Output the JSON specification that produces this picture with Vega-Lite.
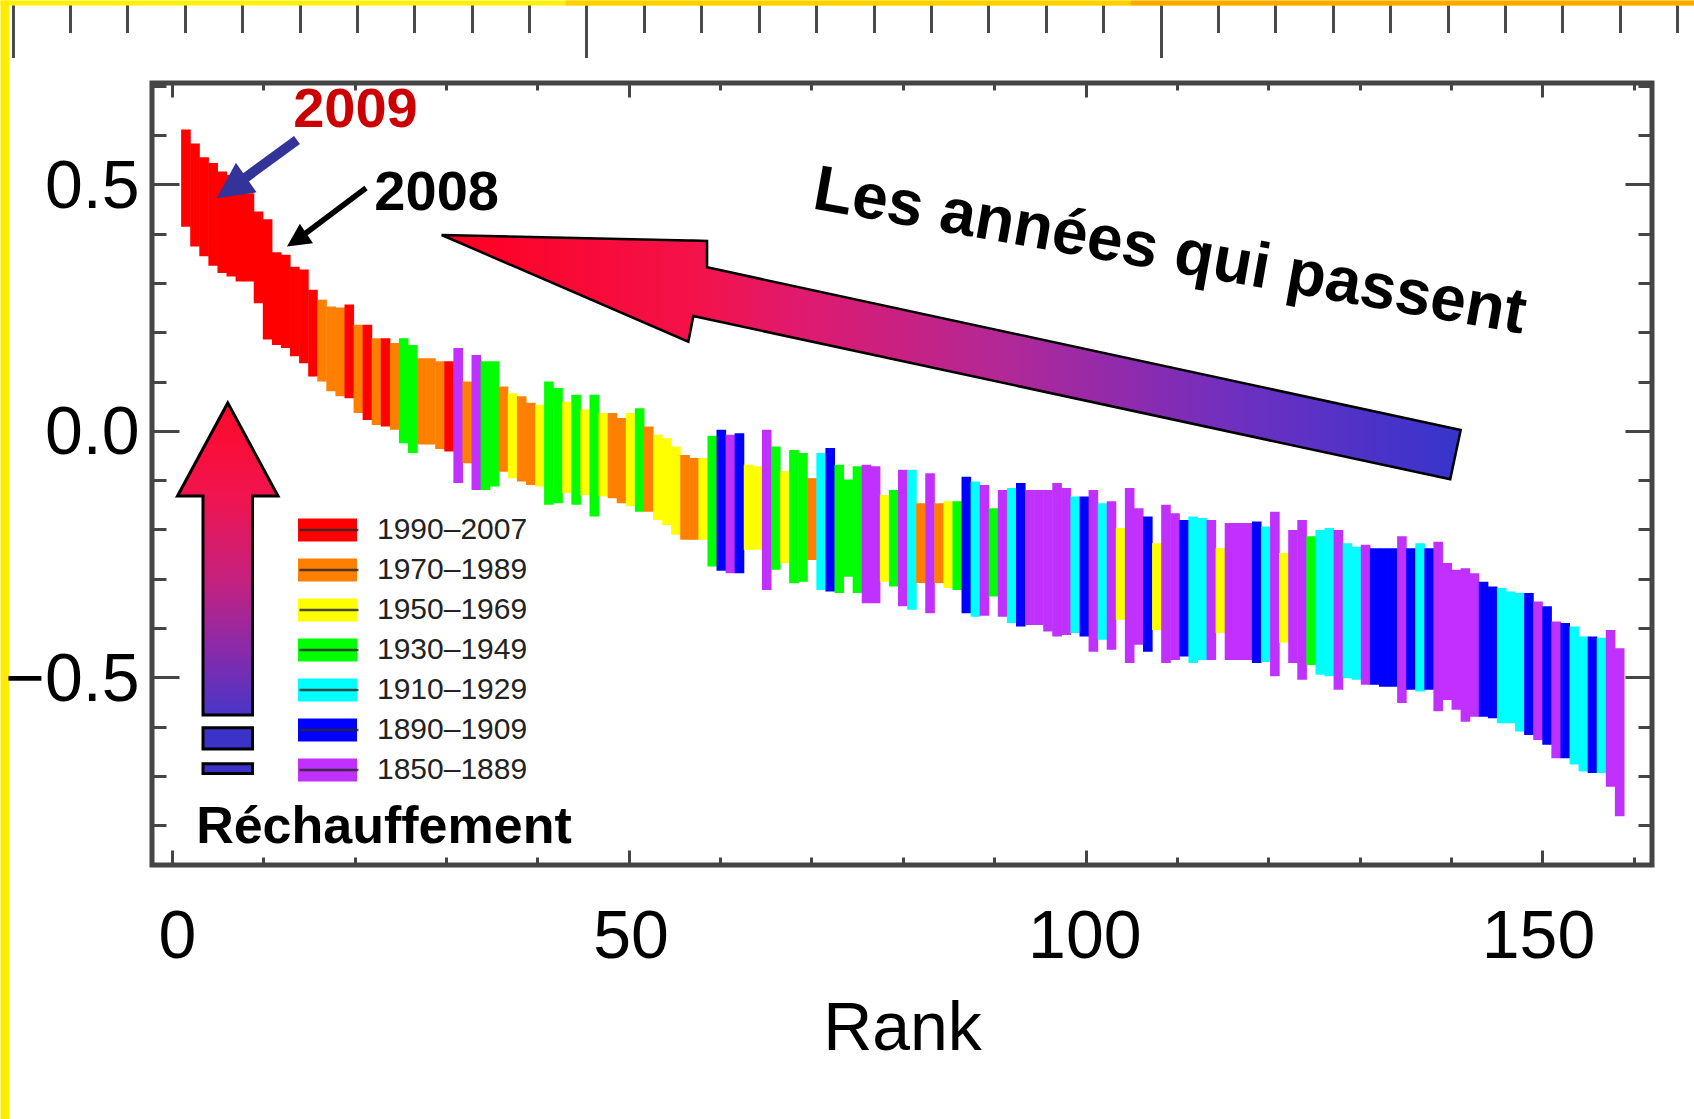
{
  "$schema": "https://vega.github.io/schema/vega-lite/v6.json",
  "width": 1500,
  "height": 782,
  "autosize": {"type": "none"},
  "padding": {"left": 152, "top": 83, "right": 42, "bottom": 254},
  "background": "white",
  "config": {
    "view": {"stroke": "#454545", "strokeWidth": 5},
    "font": "Liberation Sans",
    "axis": {"grid": false}
  },
  "datasets": {
    "bars": [
      {"rank": 1, "period": "1990–2007", "hi": 0.611, "lo": 0.414},
      {"rank": 2, "period": "1990–2007", "hi": 0.583, "lo": 0.374},
      {"rank": 3, "period": "1990–2007", "hi": 0.555, "lo": 0.354},
      {"rank": 4, "period": "1990–2007", "hi": 0.543, "lo": 0.335},
      {"rank": 5, "period": "1990–2007", "hi": 0.526, "lo": 0.32},
      {"rank": 6, "period": "1990–2007", "hi": 0.519, "lo": 0.313},
      {"rank": 7, "period": "1990–2007", "hi": 0.482, "lo": 0.303},
      {"rank": 8, "period": "1990–2007", "hi": 0.482, "lo": 0.303},
      {"rank": 9, "period": "1990–2007", "hi": 0.445, "lo": 0.259},
      {"rank": 10, "period": "1990–2007", "hi": 0.429, "lo": 0.185},
      {"rank": 11, "period": "1990–2007", "hi": 0.362, "lo": 0.174},
      {"rank": 12, "period": "1990–2007", "hi": 0.357, "lo": 0.168},
      {"rank": 13, "period": "1990–2007", "hi": 0.333, "lo": 0.151},
      {"rank": 14, "period": "1990–2007", "hi": 0.327, "lo": 0.137},
      {"rank": 15, "period": "1990–2007", "hi": 0.286, "lo": 0.11},
      {"rank": 16, "period": "1970–1989", "hi": 0.266, "lo": 0.1},
      {"rank": 17, "period": "1970–1989", "hi": 0.252, "lo": 0.08},
      {"rank": 18, "period": "1970–1989", "hi": 0.25, "lo": 0.07},
      {"rank": 19, "period": "1990–2007", "hi": 0.256, "lo": 0.066},
      {"rank": 20, "period": "1970–1989", "hi": 0.215, "lo": 0.036},
      {"rank": 21, "period": "1990–2007", "hi": 0.215, "lo": 0.022},
      {"rank": 22, "period": "1970–1989", "hi": 0.188, "lo": 0.012},
      {"rank": 23, "period": "1990–2007", "hi": 0.188, "lo": 0.009},
      {"rank": 24, "period": "1970–1989", "hi": 0.178, "lo": 0.002},
      {"rank": 25, "period": "1930–1949", "hi": 0.188, "lo": -0.025},
      {"rank": 26, "period": "1930–1949", "hi": 0.174, "lo": -0.045},
      {"rank": 27, "period": "1970–1989", "hi": 0.147, "lo": -0.028},
      {"rank": 28, "period": "1970–1989", "hi": 0.147, "lo": -0.028},
      {"rank": 29, "period": "1970–1989", "hi": 0.141, "lo": -0.037},
      {"rank": 30, "period": "1990–2007", "hi": 0.141, "lo": -0.042},
      {"rank": 31, "period": "1850–1889", "hi": 0.168, "lo": -0.106},
      {"rank": 32, "period": "1970–1989", "hi": 0.1, "lo": -0.066},
      {"rank": 33, "period": "1850–1889", "hi": 0.154, "lo": -0.12},
      {"rank": 34, "period": "1930–1949", "hi": 0.141, "lo": -0.12},
      {"rank": 35, "period": "1930–1949", "hi": 0.141, "lo": -0.113},
      {"rank": 36, "period": "1970–1989", "hi": 0.09, "lo": -0.083},
      {"rank": 37, "period": "1950–1969", "hi": 0.076, "lo": -0.096},
      {"rank": 38, "period": "1970–1989", "hi": 0.07, "lo": -0.103},
      {"rank": 39, "period": "1970–1989", "hi": 0.057, "lo": -0.11},
      {"rank": 40, "period": "1950–1969", "hi": 0.053, "lo": -0.113},
      {"rank": 41, "period": "1930–1949", "hi": 0.1, "lo": -0.15},
      {"rank": 42, "period": "1930–1949", "hi": 0.087, "lo": -0.147},
      {"rank": 43, "period": "1950–1969", "hi": 0.059, "lo": -0.126},
      {"rank": 44, "period": "1930–1949", "hi": 0.073, "lo": -0.15},
      {"rank": 45, "period": "1950–1969", "hi": 0.043, "lo": -0.13},
      {"rank": 46, "period": "1930–1949", "hi": 0.073, "lo": -0.174},
      {"rank": 47, "period": "1950–1969", "hi": 0.036, "lo": -0.133},
      {"rank": 48, "period": "1970–1989", "hi": 0.036, "lo": -0.137},
      {"rank": 49, "period": "1970–1989", "hi": 0.026, "lo": -0.147},
      {"rank": 50, "period": "1950–1969", "hi": 0.036, "lo": -0.153},
      {"rank": 51, "period": "1930–1949", "hi": 0.046, "lo": -0.164},
      {"rank": 52, "period": "1970–1989", "hi": 0.009, "lo": -0.164},
      {"rank": 53, "period": "1950–1969", "hi": -0.008, "lo": -0.181},
      {"rank": 54, "period": "1950–1969", "hi": -0.015, "lo": -0.191},
      {"rank": 55, "period": "1950–1969", "hi": -0.032, "lo": -0.211},
      {"rank": 56, "period": "1970–1989", "hi": -0.049, "lo": -0.221},
      {"rank": 57, "period": "1970–1989", "hi": -0.055, "lo": -0.221},
      {"rank": 58, "period": "1950–1969", "hi": -0.055, "lo": -0.221},
      {"rank": 59, "period": "1930–1949", "hi": -0.01, "lo": -0.275},
      {"rank": 60, "period": "1890–1909", "hi": 0.002, "lo": -0.284},
      {"rank": 61, "period": "1850–1889", "hi": -0.008, "lo": -0.289},
      {"rank": 62, "period": "1890–1909", "hi": -0.005, "lo": -0.289},
      {"rank": 63, "period": "1950–1969", "hi": -0.069, "lo": -0.241},
      {"rank": 64, "period": "1950–1969", "hi": -0.072, "lo": -0.241},
      {"rank": 65, "period": "1850–1889", "hi": 0.002, "lo": -0.323},
      {"rank": 66, "period": "1930–1949", "hi": -0.032, "lo": -0.282},
      {"rank": 67, "period": "1950–1969", "hi": -0.082, "lo": -0.268},
      {"rank": 68, "period": "1930–1949", "hi": -0.039, "lo": -0.309},
      {"rank": 69, "period": "1930–1949", "hi": -0.045, "lo": -0.306},
      {"rank": 70, "period": "1970–1989", "hi": -0.096, "lo": -0.262},
      {"rank": 71, "period": "1910–1929", "hi": -0.045, "lo": -0.323},
      {"rank": 72, "period": "1890–1909", "hi": -0.035, "lo": -0.326},
      {"rank": 73, "period": "1930–1949", "hi": -0.069, "lo": -0.329},
      {"rank": 74, "period": "1930–1949", "hi": -0.099, "lo": -0.296},
      {"rank": 75, "period": "1930–1949", "hi": -0.072, "lo": -0.329},
      {"rank": 76, "period": "1850–1889", "hi": -0.069, "lo": -0.35},
      {"rank": 77, "period": "1850–1889", "hi": -0.072, "lo": -0.35},
      {"rank": 78, "period": "1950–1969", "hi": -0.13, "lo": -0.306},
      {"rank": 79, "period": "1930–1949", "hi": -0.12, "lo": -0.316},
      {"rank": 80, "period": "1850–1889", "hi": -0.079, "lo": -0.356},
      {"rank": 81, "period": "1910–1929", "hi": -0.079, "lo": -0.363},
      {"rank": 82, "period": "1970–1989", "hi": -0.147, "lo": -0.309},
      {"rank": 83, "period": "1850–1889", "hi": -0.086, "lo": -0.37},
      {"rank": 84, "period": "1970–1989", "hi": -0.147, "lo": -0.309},
      {"rank": 85, "period": "1950–1969", "hi": -0.143, "lo": -0.319},
      {"rank": 86, "period": "1930–1949", "hi": -0.143, "lo": -0.323},
      {"rank": 87, "period": "1890–1909", "hi": -0.093, "lo": -0.37},
      {"rank": 88, "period": "1910–1929", "hi": -0.103, "lo": -0.377},
      {"rank": 89, "period": "1850–1889", "hi": -0.11, "lo": -0.375},
      {"rank": 90, "period": "1930–1949", "hi": -0.157, "lo": -0.336},
      {"rank": 91, "period": "1850–1889", "hi": -0.12, "lo": -0.377},
      {"rank": 92, "period": "1910–1929", "hi": -0.116, "lo": -0.39},
      {"rank": 93, "period": "1890–1909", "hi": -0.106, "lo": -0.397},
      {"rank": 94, "period": "1850–1889", "hi": -0.12, "lo": -0.394},
      {"rank": 95, "period": "1850–1889", "hi": -0.12, "lo": -0.394},
      {"rank": 96, "period": "1850–1889", "hi": -0.12, "lo": -0.407},
      {"rank": 97, "period": "1850–1889", "hi": -0.106, "lo": -0.417},
      {"rank": 98, "period": "1850–1889", "hi": -0.116, "lo": -0.414},
      {"rank": 99, "period": "1910–1929", "hi": -0.133, "lo": -0.41},
      {"rank": 100, "period": "1890–1909", "hi": -0.133, "lo": -0.417},
      {"rank": 101, "period": "1850–1889", "hi": -0.12, "lo": -0.448},
      {"rank": 102, "period": "1910–1929", "hi": -0.147, "lo": -0.424},
      {"rank": 103, "period": "1850–1889", "hi": -0.143, "lo": -0.444},
      {"rank": 104, "period": "1950–1969", "hi": -0.197, "lo": -0.383},
      {"rank": 105, "period": "1850–1889", "hi": -0.116, "lo": -0.471},
      {"rank": 106, "period": "1850–1889", "hi": -0.157, "lo": -0.434},
      {"rank": 107, "period": "1890–1909", "hi": -0.174, "lo": -0.448},
      {"rank": 108, "period": "1950–1969", "hi": -0.228, "lo": -0.404},
      {"rank": 109, "period": "1850–1889", "hi": -0.15, "lo": -0.471},
      {"rank": 110, "period": "1850–1889", "hi": -0.167, "lo": -0.465},
      {"rank": 111, "period": "1890–1909", "hi": -0.181, "lo": -0.458},
      {"rank": 112, "period": "1910–1929", "hi": -0.174, "lo": -0.471},
      {"rank": 113, "period": "1910–1929", "hi": -0.177, "lo": -0.465},
      {"rank": 114, "period": "1850–1889", "hi": -0.181, "lo": -0.465},
      {"rank": 115, "period": "1950–1969", "hi": -0.238, "lo": -0.41},
      {"rank": 116, "period": "1850–1889", "hi": -0.187, "lo": -0.465},
      {"rank": 117, "period": "1850–1889", "hi": -0.187, "lo": -0.465},
      {"rank": 118, "period": "1850–1889", "hi": -0.187, "lo": -0.465},
      {"rank": 119, "period": "1890–1909", "hi": -0.184, "lo": -0.471},
      {"rank": 120, "period": "1910–1929", "hi": -0.194, "lo": -0.469},
      {"rank": 121, "period": "1850–1889", "hi": -0.164, "lo": -0.498},
      {"rank": 122, "period": "1950–1969", "hi": -0.248, "lo": -0.43},
      {"rank": 123, "period": "1850–1889", "hi": -0.201, "lo": -0.471},
      {"rank": 124, "period": "1850–1889", "hi": -0.181, "lo": -0.505},
      {"rank": 125, "period": "1930–1949", "hi": -0.214, "lo": -0.475},
      {"rank": 126, "period": "1910–1929", "hi": -0.201, "lo": -0.495},
      {"rank": 127, "period": "1910–1929", "hi": -0.197, "lo": -0.498},
      {"rank": 128, "period": "1850–1889", "hi": -0.201, "lo": -0.525},
      {"rank": 129, "period": "1910–1929", "hi": -0.228, "lo": -0.502},
      {"rank": 130, "period": "1910–1929", "hi": -0.235, "lo": -0.505},
      {"rank": 131, "period": "1850–1889", "hi": -0.231, "lo": -0.515},
      {"rank": 132, "period": "1890–1909", "hi": -0.238, "lo": -0.515},
      {"rank": 133, "period": "1890–1909", "hi": -0.238, "lo": -0.519},
      {"rank": 134, "period": "1890–1909", "hi": -0.238, "lo": -0.519},
      {"rank": 135, "period": "1850–1889", "hi": -0.214, "lo": -0.552},
      {"rank": 136, "period": "1890–1909", "hi": -0.238, "lo": -0.525},
      {"rank": 137, "period": "1910–1929", "hi": -0.228, "lo": -0.529},
      {"rank": 138, "period": "1890–1909", "hi": -0.238, "lo": -0.525},
      {"rank": 139, "period": "1850–1889", "hi": -0.225, "lo": -0.569},
      {"rank": 140, "period": "1850–1889", "hi": -0.268, "lo": -0.546},
      {"rank": 141, "period": "1850–1889", "hi": -0.282, "lo": -0.566},
      {"rank": 142, "period": "1850–1889", "hi": -0.279, "lo": -0.59},
      {"rank": 143, "period": "1850–1889", "hi": -0.289, "lo": -0.58},
      {"rank": 144, "period": "1890–1909", "hi": -0.306, "lo": -0.58},
      {"rank": 145, "period": "1890–1909", "hi": -0.316, "lo": -0.583},
      {"rank": 146, "period": "1910–1929", "hi": -0.319, "lo": -0.593},
      {"rank": 147, "period": "1910–1929", "hi": -0.326, "lo": -0.593},
      {"rank": 148, "period": "1910–1929", "hi": -0.329, "lo": -0.61},
      {"rank": 149, "period": "1890–1909", "hi": -0.329, "lo": -0.617},
      {"rank": 150, "period": "1850–1889", "hi": -0.346, "lo": -0.627},
      {"rank": 151, "period": "1890–1909", "hi": -0.356, "lo": -0.637},
      {"rank": 152, "period": "1850–1889", "hi": -0.387, "lo": -0.664},
      {"rank": 153, "period": "1890–1909", "hi": -0.39, "lo": -0.664},
      {"rank": 154, "period": "1910–1929", "hi": -0.397, "lo": -0.677},
      {"rank": 155, "period": "1910–1929", "hi": -0.417, "lo": -0.691},
      {"rank": 156, "period": "1890–1909", "hi": -0.417, "lo": -0.694},
      {"rank": 157, "period": "1910–1929", "hi": -0.42, "lo": -0.694},
      {"rank": 158, "period": "1850–1889", "hi": -0.404, "lo": -0.722},
      {"rank": 159, "period": "1850–1889", "hi": -0.441, "lo": -0.782}
    ],
    "bigArrow": [
      {"x": 29.52, "top": 0.3972, "bottom": 0.3972},
      {"x": 56.52, "top": 0.386, "bottom": 0.1807},
      {"x": 57.07, "top": 0.3858, "bottom": 0.2329},
      {"x": 58.57, "top": 0.385, "bottom": 0.2268},
      {"x": 58.57, "top": 0.3316, "bottom": 0.2268},
      {"x": 139.92, "top": 0.0061, "bottom": -0.0984},
      {"x": 141.07, "top": 0.0016, "bottom": 0.0016}
    ],
    "upArrow": [
      {"x": 0.602, "top": -0.1323, "bottom": -0.1323},
      {"x": 3.394, "top": -0.0365, "bottom": -0.1323},
      {"x": 3.394, "top": -0.0365, "bottom": -0.5765},
      {"x": 6.103, "top": 0.0564, "bottom": -0.5765},
      {"x": 8.812, "top": -0.0365, "bottom": -0.5765},
      {"x": 8.812, "top": -0.0365, "bottom": -0.1323},
      {"x": 11.604, "top": -0.1323, "bottom": -0.1323}
    ],
    "blocks": [
      {"x": 3.394, "x2": 8.812, "y": -0.6021, "y2": -0.6455},
      {"x": 3.394, "x2": 8.812, "y": -0.6755, "y2": -0.6951}
    ]
  },
  "layer": [
    {
      "data": {"name": "bars"},
      "mark": {"type": "point", "opacity": 0},
      "encoding": {
        "x": {
          "field": "rank", "type": "quantitative",
          "scale": {"domain": [0, 1694], "range": [-152, 1542], "nice": false, "zero": false},
          "axis": {
            "orient": "top", "offset": 80.5, "title": null, "labels": false, "grid": false,
            "domain": true, "domainColor": "#fff200", "domainWidth": 5, "domainCap": "butt",
            "ticks": true, "tickColor": "#4a4a4a", "tickWidth": 3,
            "tickSize": {"condition": {"test": "datum.value < 13 || abs(datum.value - 586.5) < 1 || abs(datum.value - 1160.5) < 1", "value": -55}, "value": -30},
            "values": [12.5, 69.9, 127.3, 184.7, 242.1, 299.5, 356.9, 414.3, 471.7, 529.1, 586.5, 643.9, 701.3, 758.7, 816.1, 873.5, 930.9, 988.3, 1045.7, 1103.1, 1160.5, 1217.9, 1275.3, 1332.7, 1390.1, 1447.5, 1504.9, 1562.3, 1619.7, 1677.1]
          }
        },
        "y": {
          "field": "lo", "type": "quantitative",
          "scale": {"domain": [0, 1119], "range": [1036, -83], "nice": false, "zero": false},
          "axis": {"orient": "left", "offset": 147.5, "title": null, "labels": false, "ticks": false, "grid": false, "domain": true, "domainColor": "#ffec00", "domainWidth": 9}
        }
      }
    },
    {
      "data": {"name": "bars"},
      "mark": {"type": "point", "opacity": 0},
      "encoding": {
        "x": {
          "field": "rank", "type": "quantitative",
          "scale": {"domain": [0, 1], "range": [413, 978], "nice": false, "zero": false},
          "axis": {"orient": "top", "offset": 80.5, "title": null, "labels": false, "ticks": false, "grid": false, "domain": true, "domainColor": "#ffcf00", "domainWidth": 5, "domainCap": "butt"}
        },
        "y": {"field": "lo", "type": "quantitative", "scale": {"domain": [0, 1119], "range": [1036, -83], "nice": false, "zero": false}, "axis": null}
      }
    },
    {
      "data": {"name": "bars"},
      "mark": {"type": "point", "opacity": 0},
      "encoding": {
        "x": {
          "field": "rank", "type": "quantitative",
          "scale": {"domain": [0, 1], "range": [978, 1542], "nice": false, "zero": false},
          "axis": {"orient": "top", "offset": 80.5, "title": null, "labels": false, "ticks": false, "grid": false, "domain": true, "domainColor": "#ffa600", "domainWidth": 5, "domainCap": "butt"}
        },
        "y": {"field": "lo", "type": "quantitative", "scale": {"domain": [0, 1119], "range": [1036, -83], "nice": false, "zero": false}, "axis": null}
      }
    },
    {
      "data": {"name": "bars"},
      "mark": {"type": "bar", "size": 9.6},
      "encoding": {
        "x": {
          "field": "rank", "type": "quantitative",
          "scale": {"domain": [-2.19, 162.01], "nice": false, "zero": false},
          "axis": {
            "orient": "bottom", "values": [0, 50, 100, 150], "ticks": false, "domain": false, "grid": false,
            "labelFont": "Liberation Sans", "labelFontSize": 68, "labelColor": "black",
            "labelPadding": 38, "labelFlush": false, "labelOverlap": false,
            "title": "Rank", "titleFont": "Liberation Sans", "titleFontSize": 68,
            "titleFontWeight": "normal", "titleColor": "black", "titlePadding": 24
          }
        },
        "y": {
          "field": "hi", "type": "quantitative",
          "scale": {"domain": [-0.8807, 0.7055], "nice": false, "zero": false},
          "axis": {
            "orient": "left", "values": [-0.5, 0, 0.5], "format": ".1f", "ticks": false, "domain": false, "grid": false,
            "labelFont": "Liberation Sans", "labelFontSize": 68, "labelColor": "black",
            "labelPadding": 13, "labelOffset": 3, "labelFlush": false, "labelOverlap": false, "title": null
          }
        },
        "y2": {"field": "lo"},
        "color": {
          "field": "period", "type": "nominal",
          "scale": {
            "domain": ["1990–2007", "1970–1989", "1950–1969", "1930–1949", "1910–1929", "1890–1909", "1850–1889"],
            "range": ["#ff0000", "#ff8000", "#ffff00", "#00ff00", "#00ffff", "#0000ff", "#c030ff"]
          },
          "legend": {
            "orient": "none", "legendX": 146, "legendY": 432, "direction": "vertical", "title": null, "padding": 0,
            "symbolType": "M-1,-0.39H1V0.39H-1Z", "symbolSize": 3481, "symbolStrokeWidth": 0, "symbolOpacity": 1,
            "labelFont": "Liberation Sans", "labelFontSize": 30, "labelColor": "#222", "labelOffset": 20,
            "rowPadding": 10, "clipHeight": 30
          }
        }
      }
    },
    {
      "data": {"name": "bars"},
      "mark": {"type": "point", "opacity": 0, "filled": false},
      "encoding": {
        "x": {
          "field": "rank", "type": "quantitative",
          "scale": {"domain": [-2.19, 162.01], "nice": false, "zero": false},
          "axis": {
            "orient": "bottom", "values": [0, 10, 20, 30, 40, 50, 60, 70, 80, 90, 100, 110, 120, 130, 140, 150, 160],
            "labels": false, "domain": false, "grid": false, "title": null, "tickColor": "#454545", "tickWidth": 3,
            "tickSize": {"condition": {"test": "datum.value % 50 === 0", "value": -15}, "value": -8}
          }
        },
        "y": {
          "field": "lo", "type": "quantitative",
          "scale": {"domain": [-0.8807, 0.7055], "nice": false, "zero": false},
          "axis": {
            "orient": "left", "values": [-0.8, -0.7, -0.6, -0.5, -0.4, -0.3, -0.2, -0.1, 0, 0.1, 0.2, 0.3, 0.4, 0.5, 0.6, 0.7],
            "labels": false, "domain": false, "grid": false, "title": null, "tickColor": "#454545", "tickWidth": 3,
            "tickSize": {"condition": {"test": "abs(round(datum.value * 10)) % 5 === 0", "value": -27}, "value": -14}
          }
        },
        "shape": {
          "field": "period", "type": "nominal",
          "scale": {
            "domain": ["1850–1889", "1890–1909", "1910–1929", "1930–1949", "1950–1969", "1970–1989", "1990–2007"],
            "range": ["M-1,0H1", "M-1,0H1", "M-1,0H1", "M-1,0H1", "M-1,0H1", "M-1,0H1", "M-1,0H1"]
          },
          "legend": {
            "orient": "none", "legendX": 146, "legendY": 432, "direction": "vertical", "title": null, "padding": 0,
            "symbolSize": 3481, "symbolStrokeColor": "#2a2a2a", "symbolStrokeWidth": 2.5, "symbolFillColor": "transparent",
            "symbolOpacity": 0.85, "labelFont": "Liberation Sans", "labelFontSize": 30, "labelOpacity": 0,
            "labelOffset": 20, "rowPadding": 10, "clipHeight": 30
          }
        }
      }
    },
    {
      "data": {"name": "bigArrow"},
      "mark": {
        "type": "area", "orient": "vertical", "interpolate": "linear", "opacity": 1, "stroke": "black", "strokeWidth": 2.5, "strokeJoin": "miter",
        "fill": {
          "gradient": "linear", "x1": 0, "y1": 0, "x2": 1, "y2": 0,
          "stops": [
            {"offset": 0, "color": "#ff0020"},
            {"offset": 0.25, "color": "#f3124a"},
            {"offset": 0.35, "color": "#e01a6e"},
            {"offset": 0.55, "color": "#b22896"},
            {"offset": 0.69, "color": "#8a2bb0"},
            {"offset": 0.78, "color": "#6e30c0"},
            {"offset": 1, "color": "#3634cc"}
          ]
        }
      },
      "encoding": {
        "x": {
          "field": "x", "type": "quantitative",
          "scale": {"domain": [-2.19, 162.01], "nice": false, "zero": false},
          "axis": {
            "orient": "top", "values": [0, 10, 20, 30, 40, 50, 60, 70, 80, 90, 100, 110, 120, 130, 140, 150, 160],
            "labels": false, "domain": false, "grid": false, "title": null, "tickColor": "#454545", "tickWidth": 3,
            "tickSize": {"condition": {"test": "datum.value % 50 === 0", "value": -14}, "value": -7}
          }
        },
        "y": {
          "field": "top", "type": "quantitative",
          "scale": {"domain": [-0.8807, 0.7055], "nice": false, "zero": false},
          "axis": {
            "orient": "right", "values": [-0.8, -0.7, -0.6, -0.5, -0.4, -0.3, -0.2, -0.1, 0, 0.1, 0.2, 0.3, 0.4, 0.5, 0.6, 0.7],
            "labels": false, "domain": false, "grid": false, "title": null, "tickColor": "#454545", "tickWidth": 3,
            "tickSize": {"condition": {"test": "abs(round(datum.value * 10)) % 5 === 0", "value": -27}, "value": -14}
          }
        },
        "y2": {"field": "bottom"}
      }
    },
    {
      "data": {"name": "upArrow"},
      "mark": {
        "type": "area", "orient": "vertical", "interpolate": "linear", "opacity": 1, "stroke": "black", "strokeWidth": 3, "strokeJoin": "miter",
        "fill": {
          "gradient": "linear", "x1": 0, "y1": 0, "x2": 0, "y2": 1,
          "stops": [
            {"offset": 0, "color": "#ff0a28"},
            {"offset": 0.3, "color": "#f01450"},
            {"offset": 0.57, "color": "#c4217f"},
            {"offset": 0.78, "color": "#8c2aa8"},
            {"offset": 1, "color": "#4a35c8"}
          ]
        }
      },
      "encoding": {
        "x": {"field": "x", "type": "quantitative", "scale": {"domain": [-2.19, 162.01], "nice": false, "zero": false}, "axis": null},
        "y": {"field": "top", "type": "quantitative", "scale": {"domain": [-0.8807, 0.7055], "nice": false, "zero": false}, "axis": null},
        "y2": {"field": "bottom"}
      }
    },
    {
      "data": {"name": "blocks"},
      "mark": {"type": "rect", "fill": "#3b33c8", "stroke": "black", "strokeWidth": 3, "opacity": 1},
      "encoding": {
        "x": {"field": "x", "type": "quantitative", "scale": {"domain": [-2.19, 162.01], "nice": false, "zero": false}, "axis": null},
        "x2": {"field": "x2"},
        "y": {"field": "y", "type": "quantitative", "scale": {"domain": [-0.8807, 0.7055], "nice": false, "zero": false}, "axis": null},
        "y2": {"field": "y2"}
      }
    },
    {
      "data": {"values": [{}]},
      "mark": {"type": "rule", "color": "#333399", "strokeWidth": 10, "strokeCap": "butt"},
      "encoding": {
        "x": {"datum": 13.68, "type": "quantitative", "scale": {"domain": [-2.19, 162.01], "nice": false, "zero": false}, "axis": null},
        "y": {"datum": 0.59, "type": "quantitative", "scale": {"domain": [-0.8807, 0.7055], "nice": false, "zero": false}, "axis": null},
        "x2": {"datum": 6.51},
        "y2": {"datum": 0.4927}
      }
    },
    {
      "data": {"values": [{}]},
      "mark": {"type": "point", "shape": "M0,-1L1,1L-1,1Z", "filled": true, "color": "#333399", "size": 1296, "angle": 235, "opacity": 1, "strokeWidth": 0},
      "encoding": {
        "x": {"datum": 6.51, "type": "quantitative", "scale": {"domain": [-2.19, 162.01], "nice": false, "zero": false}, "axis": null},
        "y": {"datum": 0.4927, "type": "quantitative", "scale": {"domain": [-0.8807, 0.7055], "nice": false, "zero": false}, "axis": null}
      }
    },
    {
      "data": {"values": [{}]},
      "mark": {"type": "rule", "color": "black", "strokeWidth": 5.5, "strokeCap": "butt"},
      "encoding": {
        "x": {"datum": 21.24, "type": "quantitative", "scale": {"domain": [-2.19, 162.01], "nice": false, "zero": false}, "axis": null},
        "y": {"datum": 0.4925, "type": "quantitative", "scale": {"domain": [-0.8807, 0.7055], "nice": false, "zero": false}, "axis": null},
        "x2": {"datum": 13.65},
        "y2": {"datum": 0.387}
      }
    },
    {
      "data": {"values": [{}]},
      "mark": {"type": "point", "shape": "M0,-1L1,1L-1,1Z", "filled": true, "color": "black", "size": 552, "angle": 236, "opacity": 1, "strokeWidth": 0},
      "encoding": {
        "x": {"datum": 13.65, "type": "quantitative", "scale": {"domain": [-2.19, 162.01], "nice": false, "zero": false}, "axis": null},
        "y": {"datum": 0.387, "type": "quantitative", "scale": {"domain": [-0.8807, 0.7055], "nice": false, "zero": false}, "axis": null}
      }
    },
    {
      "data": {"values": [{}]},
      "mark": {"type": "text", "text": "2009", "font": "Liberation Sans", "fontWeight": "bold", "fontSize": 56, "color": "#cc0000", "align": "center", "baseline": "alphabetic"},
      "encoding": {
        "x": {"datum": 20.08, "type": "quantitative", "scale": {"domain": [-2.19, 162.01], "nice": false, "zero": false}, "axis": null},
        "y": {"datum": 0.616, "type": "quantitative", "scale": {"domain": [-0.8807, 0.7055], "nice": false, "zero": false}, "axis": null}
      }
    },
    {
      "data": {"values": [{}]},
      "mark": {"type": "text", "text": "2008", "font": "Liberation Sans", "fontWeight": "bold", "fontSize": 56, "color": "black", "align": "center", "baseline": "alphabetic"},
      "encoding": {
        "x": {"datum": 28.97, "type": "quantitative", "scale": {"domain": [-2.19, 162.01], "nice": false, "zero": false}, "axis": null},
        "y": {"datum": 0.448, "type": "quantitative", "scale": {"domain": [-0.8807, 0.7055], "nice": false, "zero": false}, "axis": null}
      }
    },
    {
      "data": {"values": [{}]},
      "mark": {"type": "text", "text": "Les années qui passent", "font": "Liberation Sans", "fontWeight": "bold", "fontSize": 64, "color": "black", "align": "center", "baseline": "alphabetic", "angle": 10},
      "encoding": {
        "x": {"datum": 108.87, "type": "quantitative", "scale": {"domain": [-2.19, 162.01], "nice": false, "zero": false}, "axis": null},
        "y": {"datum": 0.3243, "type": "quantitative", "scale": {"domain": [-0.8807, 0.7055], "nice": false, "zero": false}, "axis": null}
      }
    },
    {
      "data": {"values": [{}]},
      "mark": {"type": "text", "text": "Réchauffement", "font": "Liberation Sans", "fontWeight": "bold", "fontSize": 52, "color": "black", "align": "center", "baseline": "alphabetic"},
      "encoding": {
        "x": {"datum": 23.2, "type": "quantitative", "scale": {"domain": [-2.19, 162.01], "nice": false, "zero": false}, "axis": null},
        "y": {"datum": -0.836, "type": "quantitative", "scale": {"domain": [-0.8807, 0.7055], "nice": false, "zero": false}, "axis": null}
      }
    }
  ],
  "resolve": {
    "scale": {"x": "independent", "y": "independent", "color": "independent", "shape": "independent"},
    "axis": {"x": "independent", "y": "independent"},
    "legend": {"color": "independent", "shape": "independent"}
  }
}
